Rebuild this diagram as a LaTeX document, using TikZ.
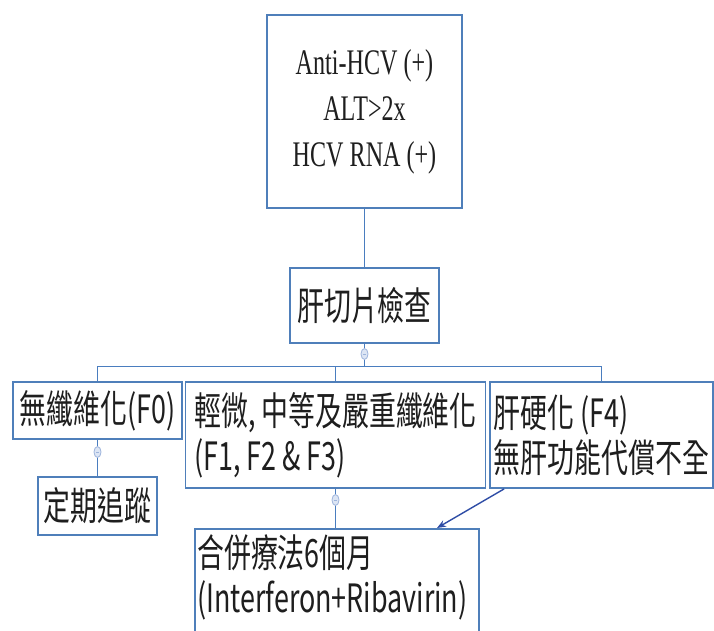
\documentclass[tikz,border=0pt]{standalone}
\usepackage{fontspec}
\usetikzlibrary{shapes.geometric,arrows.meta}
\newfontfamily\cjk[FakeStretch=0.69]{Noto Sans CJK TC}
\newfontfamily\tnr[FakeStretch=0.67]{Liberation Serif}
\definecolor{boxblue}{HTML}{4F7FBA}
\definecolor{linkblue}{HTML}{4A7DBF}
\definecolor{arrowblue}{HTML}{2F4DA6}
\definecolor{knobedge}{HTML}{9DB4DC}
\definecolor{knobfill}{HTML}{DCE5F4}
\definecolor{ink}{HTML}{1E1E1E}
\begin{document}
\begin{tikzpicture}[x=1pt,y=-1pt,
  box/.style={draw=boxblue, line width=1.8pt, inner sep=0pt, text=ink},
  cjktext/.style={font=\cjk\fontsize{39}{45}\selectfont, align=left},
  conn/.style={draw=linkblue, line width=1.7pt},
  arr/.style={draw=arrowblue, line width=1.4pt, -{Stealth[length=9pt,width=7pt]}},
  knob/.style={ellipse, draw=knobedge, fill=knobfill, line width=0.8pt,
    inner sep=0pt, minimum width=7pt, minimum height=11pt,
    path picture={\draw[knobedge, line width=0.6pt]
      ([xshift=-1.6pt]path picture bounding box.center) --
      ([xshift=1.6pt]path picture bounding box.center);}}]
\clip (0,0) rectangle (714,631);
\fill[white] (0,0) rectangle (714,631);

% boxes
\node[box, minimum width=195pt, minimum height=193pt, align=center,
  font=\tnr\fontsize{36}{46}\selectfont] (test) at (364.5,111.5)
  {Anti-HCV (+)\\ALT>2x\\HCV RNA (+)};
\node[box, cjktext, minimum width=149pt, minimum height=75pt] (biopsy) at (364.5,305.5) {肝切片檢查};
\node[box, cjktext, minimum width=169pt, minimum height=57pt] (nofib) at (97.5,410.5) {無纖維化(F0)};
\node[box, cjktext, minimum width=300pt, minimum height=106pt] (mid) at (335.5,435) {輕微, 中等及嚴重纖維化\\(F1, F2 \& F3)};
\node[box, cjktext, minimum width=223pt, minimum height=106pt] (cirr) at (601.5,435) {肝硬化 (F4)\\無肝功能代償不全};
\node[box, cjktext, minimum width=119pt, minimum height=58pt] (follow) at (97.5,506) {定期追蹤};
\node[box, minimum width=284pt, minimum height=130pt, anchor=north west] (combo) at (194,528) {};
\node[cjktext, text=ink, inner sep=0pt, anchor=west] (combotext) at (197,577.5) {合併療法6個月\\(Interferon+Ribavirin)};

% tree connectors
\coordinate (bus) at (364.5,366.5);
\draw[conn] (test.south) -- (biopsy.north);
\draw[conn] (biopsy.south) -- (bus);
\draw[conn] (nofib.north) |- (bus) -| (cirr.north);
\draw[conn] (mid.north) -- (mid.north |- bus);
\draw[conn] (nofib.south) -- (follow.north);
\draw[conn] (mid.south) -- (mid.south |- combo.north);

% collapse markers
\node[knob] (k1) at (364.5,354) {};
\node[knob] (k2) at (97.5,452) {};
\node[knob] (k3) at (335.5,500) {};

% cirrhosis also leads to combination therapy
\draw[arr] ([xshift=15pt]cirr.south west) -- ([xshift=243pt]combo.north west);
\end{tikzpicture}
\end{document}
